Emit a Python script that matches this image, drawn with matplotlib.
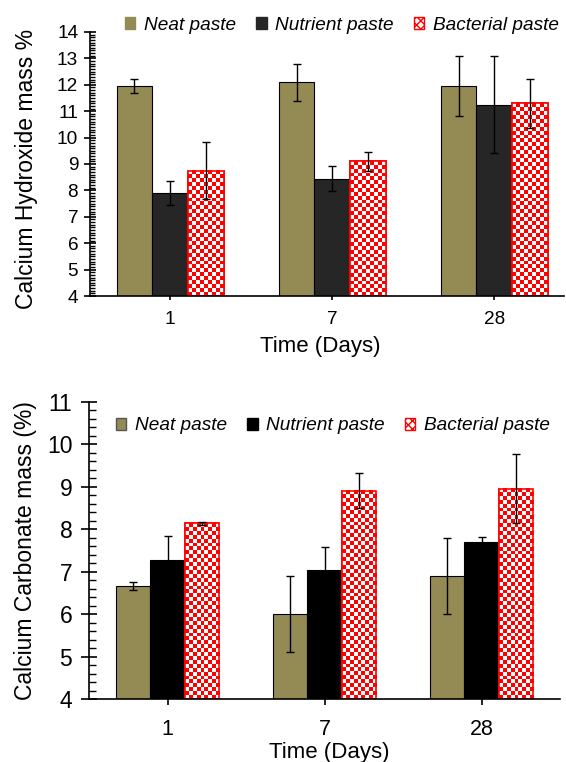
import numpy as np
import matplotlib
matplotlib.use("Agg")
import matplotlib.pyplot as plt
from matplotlib.patches import Patch
from matplotlib.colors import ListedColormap
from matplotlib.ticker import MultipleLocator

plt.rcParams['font.family'] = ['Liberation Sans', 'DejaVu Sans']

days = ['1', '7', '28']
series = ['Neat paste', 'Nutrient paste', 'Bacterial paste']

# calcium hydroxide (top panel)
ch_neat = [11.95, 12.1, 11.95]
ch_nutrient = [7.9, 8.45, 11.25]
ch_bacterial = [8.75, 9.1, 11.3]
ch_neat_err = [0.27, 0.7, 1.15]
ch_nutrient_err = [0.47, 0.46, 1.85]
ch_bacterial_err = [1.07, 0.36, 0.92]

# calcium carbonate (bottom panel)
cc_neat = [6.67, 6.0, 6.9]
cc_nutrient = [7.28, 7.03, 7.69]
cc_bacterial = [8.14, 8.91, 8.96]
cc_neat_err = [0.09, 0.9, 0.9]
cc_nutrient_err = [0.57, 0.55, 0.12]
cc_bacterial_err = [0.04, 0.42, 0.82]

olive = '#948a54'
cell = 3.9  # checker cell size in pixels


def checker(ax, bars):
    cmap = ListedColormap(['white', 'red'])
    ybot = ax.get_ylim()[0]
    for b in bars:
        x0, w = b.get_x(), b.get_width()
        y0 = max(b.get_y(), ybot)
        y1 = b.get_y() + b.get_height()
        (px0, py0), (px1, py1) = ax.transData.transform([(x0, y0), (x0 + w, y1)])
        nx = max(1, int(round((px1 - px0) / cell)))
        ny = max(1, int(round((py1 - py0) / cell)))
        grid = np.add.outer(np.arange(ny), np.arange(nx)) % 2
        ax.imshow(grid, cmap=cmap, extent=(x0, x0 + w, y0, y1), aspect='auto',
                  interpolation='nearest', zorder=2.2)
        ax.add_patch(plt.Rectangle((x0, y0), w, y1 - y0, fill=False,
                                   edgecolor='red', linewidth=1.2, zorder=2.4))


def panel(ax, vals, errs, nut_color, ylim, xlim):
    x = np.arange(len(days))
    w = 0.22
    ax.set_xlim(*xlim)
    ax.set_ylim(*ylim)
    ax.bar(x - w, vals[0], w, color=olive, edgecolor='black', linewidth=0.8, zorder=2)
    ax.bar(x, vals[1], w, color=nut_color, edgecolor='black', linewidth=0.8, zorder=2)
    bb = ax.bar(x + w, vals[2], w, color='white', edgecolor='red', linewidth=1.2, zorder=2)
    checker(ax, bb)
    for off, v, e in zip([-w, 0, w], vals, errs):
        ax.errorbar(x + off, v, yerr=e, fmt='none', ecolor='black', elinewidth=1,
                    capsize=3, capthick=1, zorder=3)
    ax.set_xlim(*xlim)
    ax.set_ylim(*ylim)
    ax.set_xticks(x)
    ax.set_xticklabels(days)
    ax.spines['top'].set_visible(False)
    ax.spines['right'].set_visible(False)
    ax.spines['left'].set_linewidth(1.2)
    ax.spines['bottom'].set_linewidth(1.2)
    ax.yaxis.set_major_locator(MultipleLocator(1))


fig = plt.figure(figsize=(5.66, 7.62), dpi=100)

# top panel
ax1 = fig.add_axes([90 / 566, 1 - 296 / 762, 474 / 566, 264 / 762])
panel(ax1, [ch_neat, ch_nutrient, ch_bacterial],
      [ch_neat_err, ch_nutrient_err, ch_bacterial_err], '#262626', (4, 14), (-0.494, 2.43))
ax1.yaxis.set_minor_locator(MultipleLocator(0.1))
ax1.tick_params(axis='y', which='major', direction='inout', length=9, width=1.2,
                labelsize=13.7, pad=4)
ax1.tick_params(axis='y', which='minor', direction='in', length=3.6, width=1)
ax1.tick_params(axis='x', direction='inout', length=6, width=1.2, labelsize=13.7, pad=8)
ax1.set_ylabel('Calcium Hydroxide mass %', fontsize=16.5, va='center')
ax1.yaxis.set_label_coords(-0.135, 0.48)
ax1.set_xlabel('Time (Days)', fontsize=16, va='top')
ax1.xaxis.set_label_coords(0.485, -0.152)

# bottom panel
ax2 = fig.add_axes([89 / 566, 1 - 699 / 762, 471 / 566, 297 / 762])
panel(ax2, [cc_neat, cc_nutrient, cc_bacterial],
      [cc_neat_err, cc_nutrient_err, cc_bacterial_err], 'black', (4, 11), (-0.5, 2.5))
ax2.yaxis.set_minor_locator(MultipleLocator(0.2))
ax2.tick_params(axis='y', which='major', direction='inout', length=12, width=1.2,
                labelsize=16.5, pad=6)
ax2.tick_params(axis='y', which='minor', direction='in', length=5, width=1)
ax2.tick_params(axis='x', direction='out', length=4.5, width=1.2, labelsize=15.5, pad=10)
ax2.set_ylabel('Calcium Carbonate mass (%)', fontsize=16.5, va='center')
ax2.yaxis.set_label_coords(-0.135, 0.5)
ax2.set_xlabel('Time (Days)', fontsize=16, va='top')
ax2.xaxis.set_label_coords(0.51, -0.145)

# legends
leg_kw = dict(loc='center left', ncol=3, frameon=False, borderpad=0, borderaxespad=0,
              handlelength=0.55, handleheight=0.55, handletextpad=0.45,
              columnspacing=1.05, prop={'style': 'italic', 'size': 13.7})

top_handles = [Patch(facecolor=olive, edgecolor=olive),
               Patch(facecolor='#262626', edgecolor='#262626'),
               Patch(facecolor='white', edgecolor='red', hatch='xxxx')]
fig.legend(top_handles, series, bbox_to_anchor=(125 / 566, 1 - 25 / 762), **leg_kw)

bot_handles = [Patch(facecolor=olive, edgecolor='#555555'),
               Patch(facecolor='black', edgecolor='black'),
               Patch(facecolor='white', edgecolor='red', hatch='xxxx')]
fig.legend(bot_handles, series, bbox_to_anchor=(116 / 566, 1 - 426 / 762), **leg_kw)

fig.savefig('out.png', dpi=100)
